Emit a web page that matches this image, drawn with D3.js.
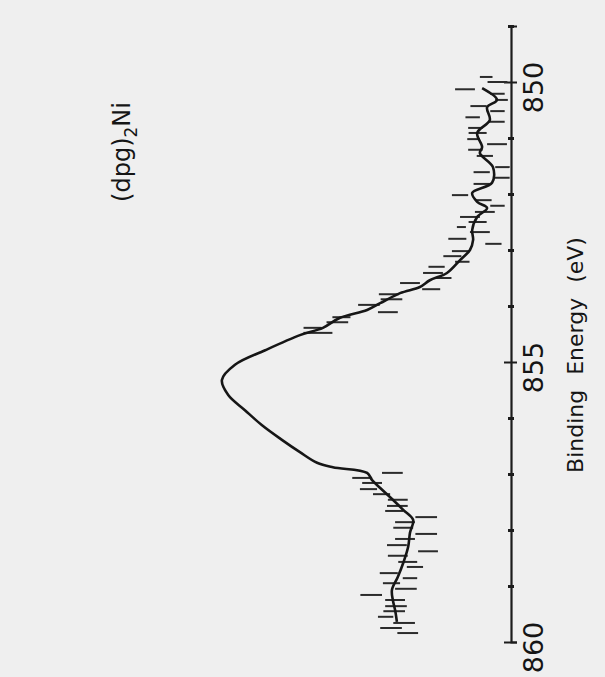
<!DOCTYPE html>
<html>
<head>
<meta charset="utf-8">
<script src="https://cdn.jsdelivr.net/npm/d3@7"></script>
<style>
  body { margin: 0; background: #efefef; }
  svg { display: block; }
</style>
</head>
<body>
<svg id="chart" width="605" height="677"></svg>
<script>
// smoothed spectrum (binding energy in eV, intensity in arbitrary units)
const curveEnergy = [850.11, 850.32, 850.45, 850.68, 850.91, 851.16, 851.27, 851.52, 851.80, 851.98,
  852.14, 852.25, 852.41, 852.64, 852.82, 853.00, 853.18, 853.41, 853.54, 853.66, 853.77, 853.95,
  854.07, 854.21, 854.39, 854.52, 854.79, 855.05, 855.32, 855.59, 855.86, 856.13, 856.39, 856.61,
  856.80, 856.88, 856.98, 857.11, 857.25, 857.46, 857.64, 857.82, 858.05, 858.30, 858.59, 858.84,
  859.07, 859.25, 859.43, 859.64];
const curveCounts = [6.4, 3.1, 5.3, 4.7, 7.5, 6.4, 6.9, 4.0, 4.2, 8.6,
  7.5, 5.3, 7.5, 8.6, 8.4, 9.1, 11.3, 14.2, 18.0, 20.2, 24.6, 29.0,
  31.9, 37.9, 41.7, 46.8, 54.5, 61.2, 64.1, 62.7, 59.0, 55.2, 50.8, 46.8,
  43.0, 39.5, 31.9, 30.8, 29.0, 26.2, 23.9, 21.7, 22.4, 22.8, 23.9, 25.1,
  26.4, 26.2, 25.7, 25.3];

// raw counts with error bars
const rawEnergy = [849.91, 850.00, 850.13, 850.21, 850.32, 850.43, 850.52, 850.63, 850.71, 850.82,
  850.91, 851.02, 851.11, 851.21, 851.32, 851.52, 851.61, 851.71, 851.82, 852.02, 852.11, 852.21,
  852.32, 852.41, 852.50, 852.59, 852.68, 852.80, 852.89, 853.02, 853.11, 853.21, 853.30, 853.41,
  853.50, 853.59, 853.70, 853.79, 853.88, 853.98, 854.11, 854.20, 854.29, 854.39, 854.48,
  856.98, 857.07, 857.16, 857.27, 857.36, 857.46, 857.57, 857.66, 857.77, 857.86, 857.96, 858.07,
  858.16, 858.27, 858.38, 858.46, 858.57, 858.66, 858.77, 858.86, 858.95, 859.05, 859.16, 859.25,
  859.36, 859.45, 859.55, 859.66, 859.75, 859.84];
const rawCounts = [5.5, 3.0, 10.2, 3.0, 2.1, 7.2, 3.0, 8.5, 3.2, 7.9,
  7.4, 8.3, 3.1, 7.9, 5.8, 1.9, 6.5, 2.1, 6.5, 11.3, 6.1, 3.0,
  5.8, 9.1, 7.4, 11.0, 6.9, 11.9, 3.9, 11.1, 13.0, 10.8, 16.5, 17.3,
  15.0, 22.4, 17.7, 27.1, 26.5, 31.5, 27.3, 37.6, 38.5, 44.0, 42.8,
  26.3, 33.0, 30.8, 31.6, 28.7, 25.1, 25.2, 25.9, 18.8, 23.5, 23.9, 18.8,
  23.5, 25.3, 18.4, 25.1, 22.9, 21.3, 27.1, 22.4, 26.5, 23.3, 31.0, 25.7,
  25.5, 25.9, 27.8, 23.7, 26.6, 22.9];
const rawError = [1.4, 2.2, 2.2, 1.6, 1.4, 1.8, 1.6, 1.6, 1.8, 1.6,
  2.0, 1.4, 2.2, 1.6, 1.8, 1.6, 1.8, 1.8, 1.8, 1.8, 1.8, 1.6,
  2.2, 2.2, 2.0, 1.0, 2.2, 2.0, 1.8, 2.0, 2.0, 1.6, 1.8, 2.2,
  1.8, 2.2, 2.0, 2.2, 2.4, 2.4, 2.2, 2.0, 2.4, 2.0, 3.2,
  2.3, 2.2, 2.2, 1.9, 1.9, 2.2, 2.3, 2.0, 2.4, 2.2, 2.2, 2.4,
  2.2, 2.2, 2.2, 2.2, 2.1, 1.8, 2.0, 1.6, 1.9, 2.4, 2.4, 2.2,
  2.4, 2.4, 1.7, 2.4, 2.4, 2.3];

const majorTicks = [850, 855, 860];
const minorTicks = [849, 851, 852, 853, 854, 856, 857, 858, 859];

const svg = d3.select("#chart");

const y = d3.scaleLinear().domain([849, 860]).range([26, 642]); // energy runs down the page
const x = d3.scaleLinear().domain([0, 100]).range([511, 60]);  // intensity grows to the left

// axis line + ticks
const axis = svg.append("g")
  .attr("transform", `translate(${x(0)},0)`);

axis.call(d3.axisRight(y).tickValues(majorTicks).tickSizeOuter(0).tickSize(6).tickFormat(d3.format("d")));
axis.select(".domain").attr("stroke", "#1c1c1c").attr("stroke-width", 2.2);
axis.selectAll(".tick line")
  .attr("x1", -7).attr("x2", 6)
  .attr("stroke", "#1c1c1c").attr("stroke-width", 2);
axis.selectAll(".tick text")
  .attr("x", 0).attr("dy", 0)
  .attr("transform", "translate(32,5) rotate(-90)")
  .attr("text-anchor", "middle")
  .attr("fill", "#151515")
  .style("font-family", "DejaVu Sans")
  .style("font-size", "27px");

const minor = svg.append("g")
  .attr("transform", `translate(${x(0)},0)`)
  .call(d3.axisRight(y).tickValues(minorTicks).tickSize(3).tickFormat(""));
minor.select(".domain").remove();
minor.selectAll(".tick line")
  .attr("x1", -3).attr("x2", 3)
  .attr("stroke", "#1c1c1c").attr("stroke-width", 3);

// axis title
svg.append("text")
  .attr("transform", `translate(583,${y(855) - 7}) rotate(-90)`)
  .attr("text-anchor", "middle")
  .attr("fill", "#151515")
  .style("font-family", "DejaVu Sans")
  .style("font-size", "22px")
  .style("word-spacing", "8px")
  .text("Binding Energy (eV)");

// sample label
const title = svg.append("text")
  .attr("transform", "translate(130,152) rotate(-90)")
  .attr("text-anchor", "middle")
  .attr("fill", "#151515")
  .style("font-family", "DejaVu Sans")
  .style("font-size", "24px");
title.append("tspan").text("(dpg)");
title.append("tspan").attr("dy", 7).style("font-size", "17px").text("2");
title.append("tspan").attr("dy", -7).text("Ni");

// error-bar dashes
const raw = rawEnergy.map((e, i) => ({e, c: rawCounts[i], s: rawError[i]}));
svg.append("g")
  .selectAll("line")
  .data(raw)
  .join("line")
  .attr("x1", d => x(d.c - d.s))
  .attr("x2", d => x(d.c + d.s))
  .attr("y1", d => y(d.e))
  .attr("y2", d => y(d.e))
  .attr("stroke", "#2b2b2b")
  .attr("stroke-width", 2);

// smoothed curve
const line = d3.line()
  .x(d => x(d[1]))
  .y(d => y(d[0]))
  .curve(d3.curveCatmullRom);

svg.append("path")
  .datum(curveEnergy.map((e, i) => [e, curveCounts[i]]))
  .attr("d", line)
  .attr("fill", "none")
  .attr("stroke", "#161616")
  .attr("stroke-width", 2.6)
  .attr("stroke-linejoin", "round");
</script>
</body>
</html>
